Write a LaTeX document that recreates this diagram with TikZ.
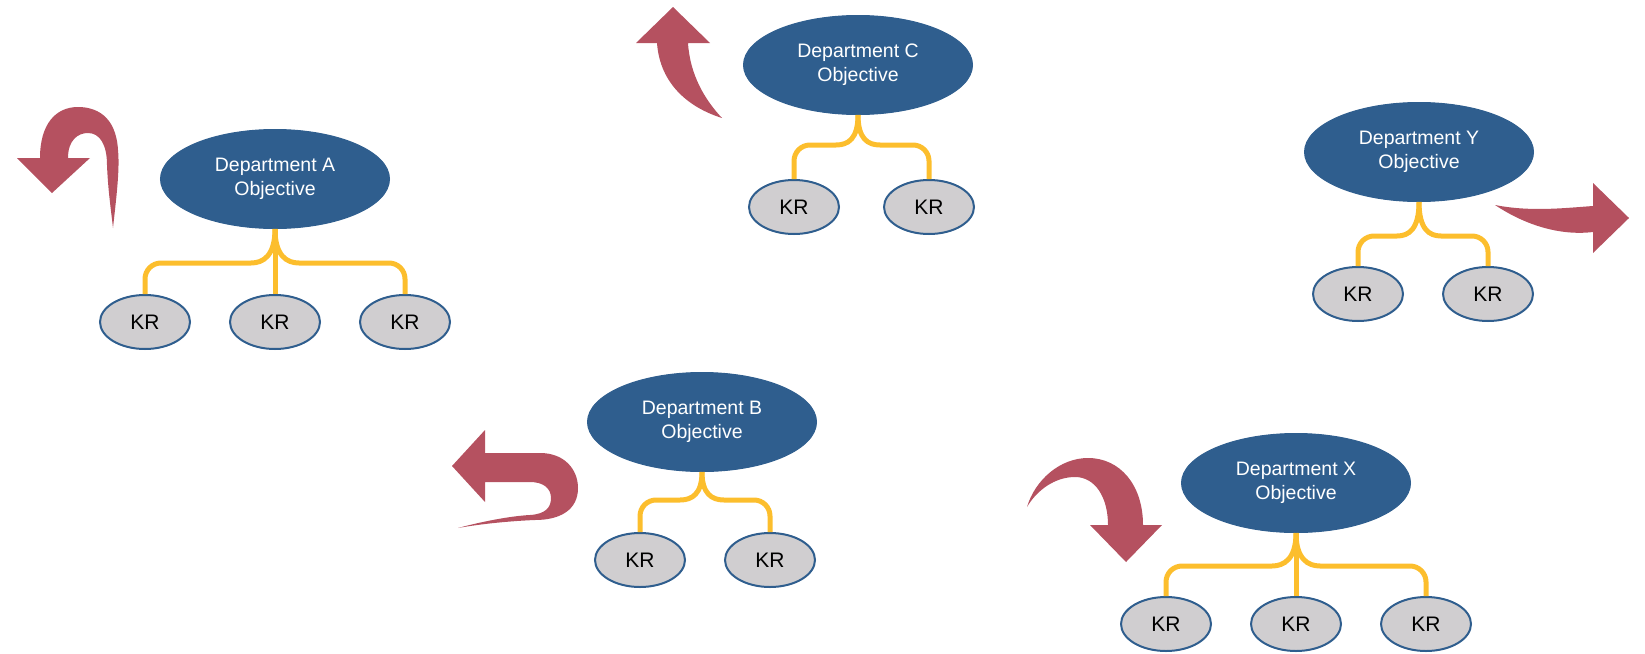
\documentclass[tikz,border=0pt]{standalone}
\usepackage{fontspec}
\setmainfont{Liberation Sans}
\usetikzlibrary{shapes.geometric,calc}
\definecolor{objblue}{RGB}{47,94,142}
\definecolor{krgray}{RGB}{208,206,208}
\definecolor{braceyellow}{RGB}{252,190,45}
\definecolor{arrowred}{RGB}{181,81,96}
\tikzset{
  objective/.style={ellipse, fill=objblue, draw=objblue, line width=1pt, inner sep=0pt,
    minimum width=229pt, minimum height=99pt, text=white, align=center,
    font=\fontsize{19.5}{24}\selectfont},
  kr/.style={ellipse, fill=krgray, draw=objblue, line width=2pt, inner sep=0pt,
    minimum width=90pt, minimum height=54pt, font=\fontsize{21}{24}\selectfont},
  brace/.style={draw=braceyellow, line width=5pt},
  turnarrow/.style={fill=arrowred, draw=none},
}
\begin{document}
\begin{tikzpicture}[x=1pt,y=-1pt]
\useasboundingbox (0,0) rectangle (1645,653);

% objectives
\node[objective] (A) at (275,179) {Department A\\Objective};
\node[objective] (C) at (858,65)  {Department C\\Objective};
\node[objective] (Y) at (1419,152) {Department Y\\Objective};
\node[objective] (B) at (702,422) {Department B\\Objective};
\node[objective] (X) at (1296,483) {Department X\\Objective};

% key results
\node[kr] (ka1) at (145,322) {KR};
\node[kr] (ka2) at (275,322) {KR};
\node[kr] (ka3) at (405,322) {KR};
\node[kr] (kc1) at (794,207) {KR};
\node[kr] (kc2) at (929,207) {KR};
\node[kr] (ky1) at (1358,294) {KR};
\node[kr] (ky2) at (1488,294) {KR};
\node[kr] (kb1) at (640,560) {KR};
\node[kr] (kb2) at (770,560) {KR};
\node[kr] (kx1) at (1166,624) {KR};
\node[kr] (kx2) at (1296,624) {KR};
\node[kr] (kx3) at (1426,624) {KR};

% braces: objective -> key results
\draw[brace] (A.south) -- (ka2.north);
\draw[brace] (A.south) .. controls +(0,27) and +(12,0) .. ($(A.south)+(-24,34)$) [rounded corners=16] -| (ka1.north);
\draw[brace] (A.south) .. controls +(0,27) and +(-12,0) .. ($(A.south)+(24,34)$) [rounded corners=16] -| (ka3.north);

\draw[brace] (C.south) .. controls +(0,24) and +(12,0) .. ($(C.south)+(-22,30)$) [rounded corners=16] -| (kc1.north);
\draw[brace] (C.south) .. controls +(0,24) and +(-12,0) .. ($(C.south)+(22,30)$) [rounded corners=16] -| (kc2.north);

\draw[brace] (Y.south) .. controls +(0,27) and +(12,0) .. ($(Y.south)+(-22,34)$) [rounded corners=16] -| (ky1.north);
\draw[brace] (Y.south) .. controls +(0,27) and +(-12,0) .. ($(Y.south)+(22,34)$) [rounded corners=16] -| (ky2.north);

\draw[brace] (B.south) .. controls +(0,22) and +(12,0) .. ($(B.south)+(-22,28)$) [rounded corners=16] -| (kb1.north);
\draw[brace] (B.south) .. controls +(0,22) and +(-12,0) .. ($(B.south)+(22,28)$) [rounded corners=16] -| (kb2.north);

\draw[brace] (X.south) -- (kx2.north);
\draw[brace] (X.south) .. controls +(0,26) and +(12,0) .. ($(X.south)+(-24,33)$) [rounded corners=16] -| (kx1.north);
\draw[brace] (X.south) .. controls +(0,26) and +(-12,0) .. ($(X.south)+(24,33)$) [rounded corners=16] -| (kx3.north);

% curved block arrows
% u-turn arrow beside A
\fill[turnarrow] (113,228) .. controls (116,200) and (120,170) .. (118,150)
  .. controls (116,115) and (95,107) .. (78,107)
  .. controls (55,107) and (40,125) .. (40,158)
  -- (17,158) -- (52,193) -- (90,158) -- (68,158)
  .. controls (68,140) and (78,133) .. (88,133)
  .. controls (100,133) and (107,145) .. (107,165)
  .. controls (108,190) and (111,210) .. (113,228) -- cycle;
% upward arrow beside C
\fill[turnarrow] (722,118) .. controls (690,108) and (660,85) .. (657,43)
  -- (636,43) -- (673,7) -- (710,43) -- (688,43)
  .. controls (690,75) and (705,100) .. (722,118) -- cycle;
% hook arrow beside B
\fill[turnarrow] (485,453) -- (540,453)
  .. controls (565,453) and (578,470) .. (578,488)
  .. controls (578,510) and (560,520) .. (535,520)
  .. controls (510,521) and (480,524) .. (458,528)
  .. controls (480,522) and (510,516) .. (530,515)
  .. controls (545,514) and (551,508) .. (551,498)
  .. controls (551,488) and (543,482) .. (530,482)
  -- (485,482) -- (485,502) -- (452,466) -- (485,430) -- cycle;
% downward arc beside X
\fill[turnarrow] (1027,507) .. controls (1035,480) and (1060,458) .. (1088,458)
  .. controls (1120,458) and (1143,485) .. (1143,525)
  -- (1162,525) -- (1126,562) -- (1090,525) -- (1108,525)
  .. controls (1108,497) and (1095,477) .. (1075,477)
  .. controls (1055,477) and (1037,490) .. (1027,507) -- cycle;
% rightward arrow beside Y
\fill[turnarrow] (1495,205) .. controls (1530,212) and (1565,208) .. (1593,206)
  -- (1593,183) -- (1629,218) -- (1593,253) -- (1593,232)
  .. controls (1560,236) and (1525,225) .. (1495,205) -- cycle;
\end{tikzpicture}
\end{document}
